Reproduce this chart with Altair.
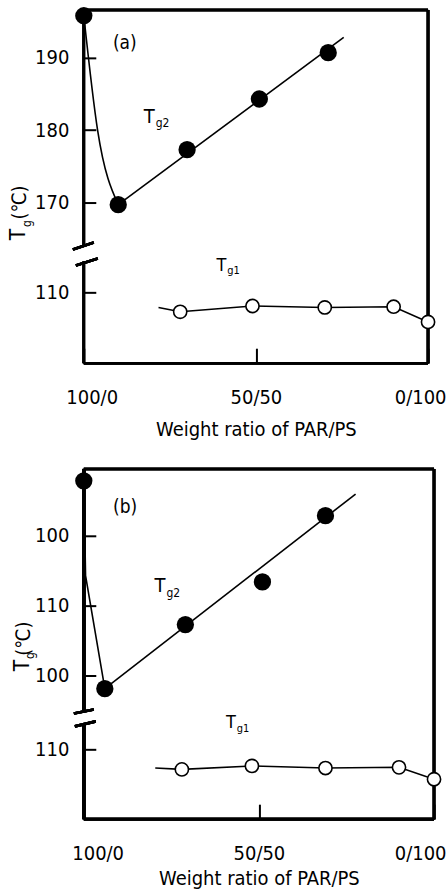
import altair as alt
import pandas as pd

FONT = "DejaVu Sans Condensed, Liberation Sans Narrow, sans-serif"

# ---------------- panel (a) ----------------
a_tg2_x = [0, 10, 30, 51, 71]
a_tg2_y = [195.8, 169.7, 177.3, 184.3, 190.7]
a_fit_x = [10, 75.5]                 # straight guide through the Tg2 points
a_fit_y = [169.7, 192.8]
a_drop_x = [0, 4, 10]                # hand-drawn drop from pure PAR to the minimum
a_drop_y = [195.8, 180.0, 169.7]
a_tg1_x = [28, 49, 70, 90, 100]
a_tg1_y = [107.3, 108.1, 107.9, 108.0, 105.9]
a_tg1_lead = (21.7, 107.9)           # start of the Tg1 guide line
a_ytick_upper = [190, 180, 170]
a_ytick_lower = [110]
a_ytick_labels = ["190", "180", "170", "110"]

# ---------------- panel (b) ----------------
b_tg2_x = [0, 6, 29, 51, 69]
b_tg2_y = [137.9, 108.1, 117.3, 123.4, 132.9]
b_fit_x = [6, 77.6]
b_fit_y = [108.1, 136.0]
b_drop_x = [0, 0.5, 6]
b_drop_y = [137.9, 124.3, 108.1]
b_tg1_x = [28, 48, 69, 90, 100]
b_tg1_y = [107.1, 107.6, 107.3, 107.4, 105.7]
b_tg1_lead = (20.4, 107.3)
b_ytick_upper = [130, 120, 110]
b_ytick_lower = [110]
b_ytick_labels = ["100", "110", "100", "110"]

x_tick_values = [0, 50, 100]
x_tick_labels = ["100/0", "50/50", "0/100"]
x_title = "Weight ratio of PAR/PS"


def label_expr(values, labels):
    parts = [f"abs(datum.value - {v}) < 0.01 ? '{t}'" for v, t in zip(values, labels)]
    return " : ".join(parts) + " : ''"


def panel(p):
    W, H = p["W"], p["H"]
    off = p["offset"]          # lower (Tg1) segment is shifted up past the axis break
    ytick_disp = p["yup"] + [v + off for v in p["ylow"]]

    X = alt.X("x:Q", scale=alt.Scale(domain=[0, 100], nice=False, zero=False),
              axis=alt.Axis(values=x_tick_values,
                            labelExpr=label_expr(x_tick_values, x_tick_labels),
                            title=x_title, domain=False, grid=False,
                            tickSize=15, offset=-15, tickWidth=2, tickColor="black",
                            labelFlush=True, labelFlushOffset=p["flushoff"],
                            labelPadding=p["xlabpad"], labelFontSize=20, labelFont=FONT,
                            labelColor="black", titleFont=FONT, titleFontSize=20,
                            titleFontWeight="normal", titleColor="black",
                            titlePadding=p["xtitlepad"]))
    Y = alt.Y("y:Q", scale=alt.Scale(domain=p["ydom"], nice=False, zero=False),
              axis=alt.Axis(values=ytick_disp,
                            labelExpr=label_expr(ytick_disp, p["ylabels"]),
                            title=None, domain=False, grid=False,
                            tickSize=12, offset=-12, tickWidth=2, tickColor="black",
                            labelPadding=15, labelFontSize=20, labelFont=FONT,
                            labelColor="black"))

    tg2 = pd.DataFrame({"x": p["tg2_x"], "y": p["tg2_y"]})
    fit = pd.DataFrame({"x": p["fit_x"], "y": p["fit_y"]})
    drop = pd.DataFrame({"x": p["drop_x"], "y": p["drop_y"]})
    tg1 = pd.DataFrame({"x": p["tg1_x"], "y": [v + off for v in p["tg1_y"]]})
    lead = pd.DataFrame({"x": [p["lead"][0]], "y": [p["lead"][1] + off]})
    tg1_line = pd.concat([lead, tg1], ignore_index=True)

    layers = []

    # frame: top, right, bottom and the broken left axis
    def rule(width=2.6, **enc):
        return alt.Chart(tg2).mark_rule(color="black", strokeWidth=width).encode(**enc)

    layers.append(rule(x=alt.value(0), x2=alt.value(W), y=alt.value(0)))
    layers.append(rule(x=alt.value(W), y=alt.value(0), y2=alt.value(H)))
    layers.append(rule(x=alt.value(0), x2=alt.value(W), y=alt.value(H)))
    layers.append(rule(width=p["leftw"], x=alt.value(0), y=alt.value(0),
                       y2=alt.value(p["gap"][0])))
    layers.append(rule(width=p["leftw"], x=alt.value(0), y=alt.value(p["gap"][1]),
                       y2=alt.value(H)))
    for (x1, y1, x2, y2) in p["breaks"]:
        layers.append(rule(x=alt.value(x1), y=alt.value(y1),
                           x2=alt.value(x2), y2=alt.value(y2)))

    line_kw = dict(color="black", strokeWidth=1.6)
    layers.append(alt.Chart(fit).mark_line(**line_kw).encode(x=X, y=Y))
    layers.append(alt.Chart(drop).mark_line(interpolate=p["drop_interp"], **line_kw)
                  .encode(x=X, y=Y))
    layers.append(alt.Chart(tg1_line).mark_line(**line_kw).encode(x=X, y=Y))

    layers.append(alt.Chart(tg2).mark_circle(size=300, color="black", opacity=1).encode(x=X, y=Y))
    layers.append(alt.Chart(tg1).mark_circle(size=175, fill="white", stroke="black",
                                             strokeWidth=1.6, opacity=1).encode(x=X, y=Y))

    # annotations
    tag = pd.DataFrame({"x": [p["tag"][0]], "y": [p["tag"][1]]})
    layers.append(alt.Chart(tag).mark_text(font=FONT, fontSize=19, color="black")
                  .encode(x=X, y=Y, text=alt.value(p["tag_text"])))

    def tsub(df, sub, big, small, dy):
        base = alt.Chart(df)
        return [
            base.mark_text(font=FONT, fontSize=big, color="black", align="right",
                           baseline="alphabetic").encode(x=X, y=Y, text=alt.value("T")),
            base.mark_text(font=FONT, fontSize=small, color="black", align="left",
                           baseline="alphabetic", dx=1, dy=dy)
                .encode(x=X, y=Y, text=alt.value(sub)),
        ]

    t2 = pd.DataFrame({"x": [p["t2"][0]], "y": [p["t2"][1]]})
    layers += tsub(t2, "g2", 20, 12, p["t2dy"])
    t1 = pd.DataFrame({"x": [p["t1"][0]], "y": [p["t1"][1] + off]})
    layers += tsub(t1, "g1", 18, 11, p["t1dy"])

    # rotated y title T_g(℃)
    for text, size, (xx, yy) in [("T", 21, p["yt_T"]), ("g", 12, p["yt_g"]),
                                 ("(℃)", 20, p["yt_c"])]:
        layers.append(alt.Chart(tag).mark_text(font=FONT, fontSize=size, color="black",
                                               angle=270, align="center",
                                               baseline="middle").encode(
            x=alt.value(xx), y=alt.value(yy), text=alt.value(text)))

    return alt.layer(*layers).properties(width=W, height=H)


pa = dict(W=345, H=354, offset=47.6, ydom=[147.8, 196.6],
          yup=a_ytick_upper, ylow=a_ytick_lower, ylabels=a_ytick_labels,
          tg2_x=a_tg2_x, tg2_y=a_tg2_y, fit_x=a_fit_x, fit_y=a_fit_y,
          drop_x=a_drop_x, drop_y=a_drop_y, drop_interp="monotone",
          tg1_x=a_tg1_x, tg1_y=a_tg1_y,
          lead=a_tg1_lead, gap=(236, 252), leftw=2.6,
          breaks=[(-11, 240, 10, 233), (-8, 256, 14, 249)],
          tag=(11.9, 192.1), tag_text="(a)",
          t2=(20.6, 181.0), t2dy=4, t1=(41.4, 112.9), t1dy=3,
          yt_T=(-65, 225), yt_g=(-57, 214), yt_c=(-64, 193),
          xlabpad=24, xtitlepad=12, flushoff=18)

pb = dict(W=351, H=351, offset=-10.57, ydom=[89.4, 139.6],
          yup=b_ytick_upper, ylow=b_ytick_lower, ylabels=b_ytick_labels,
          tg2_x=b_tg2_x, tg2_y=b_tg2_y, fit_x=b_fit_x, fit_y=b_fit_y,
          drop_x=b_drop_x, drop_y=b_drop_y, drop_interp="linear",
          tg1_x=b_tg1_x, tg1_y=b_tg1_y,
          lead=b_tg1_lead, gap=(243, 255), leftw=3.4,
          breaks=[(-10, 245, 10, 241), (-9, 258, 12, 253)],
          tag=(11.8, 134.1), tag_text="(b)",
          t2=(23.3, 122.0), t2dy=5, t1=(43.4, 112.97), t1dy=4,
          yt_T=(-61, 197), yt_g=(-54, 187), yt_c=(-60, 170),
          xlabpad=24, xtitlepad=5, flushoff=12)

chart = alt.vconcat(panel(pa), panel(pb), spacing=28).properties(
    padding={"left": 8, "top": 6, "right": 0, "bottom": 0},
    background="white",
).configure_view(stroke=None)

chart.save("out.html", embed_options={"renderer": "svg", "actions": False})
